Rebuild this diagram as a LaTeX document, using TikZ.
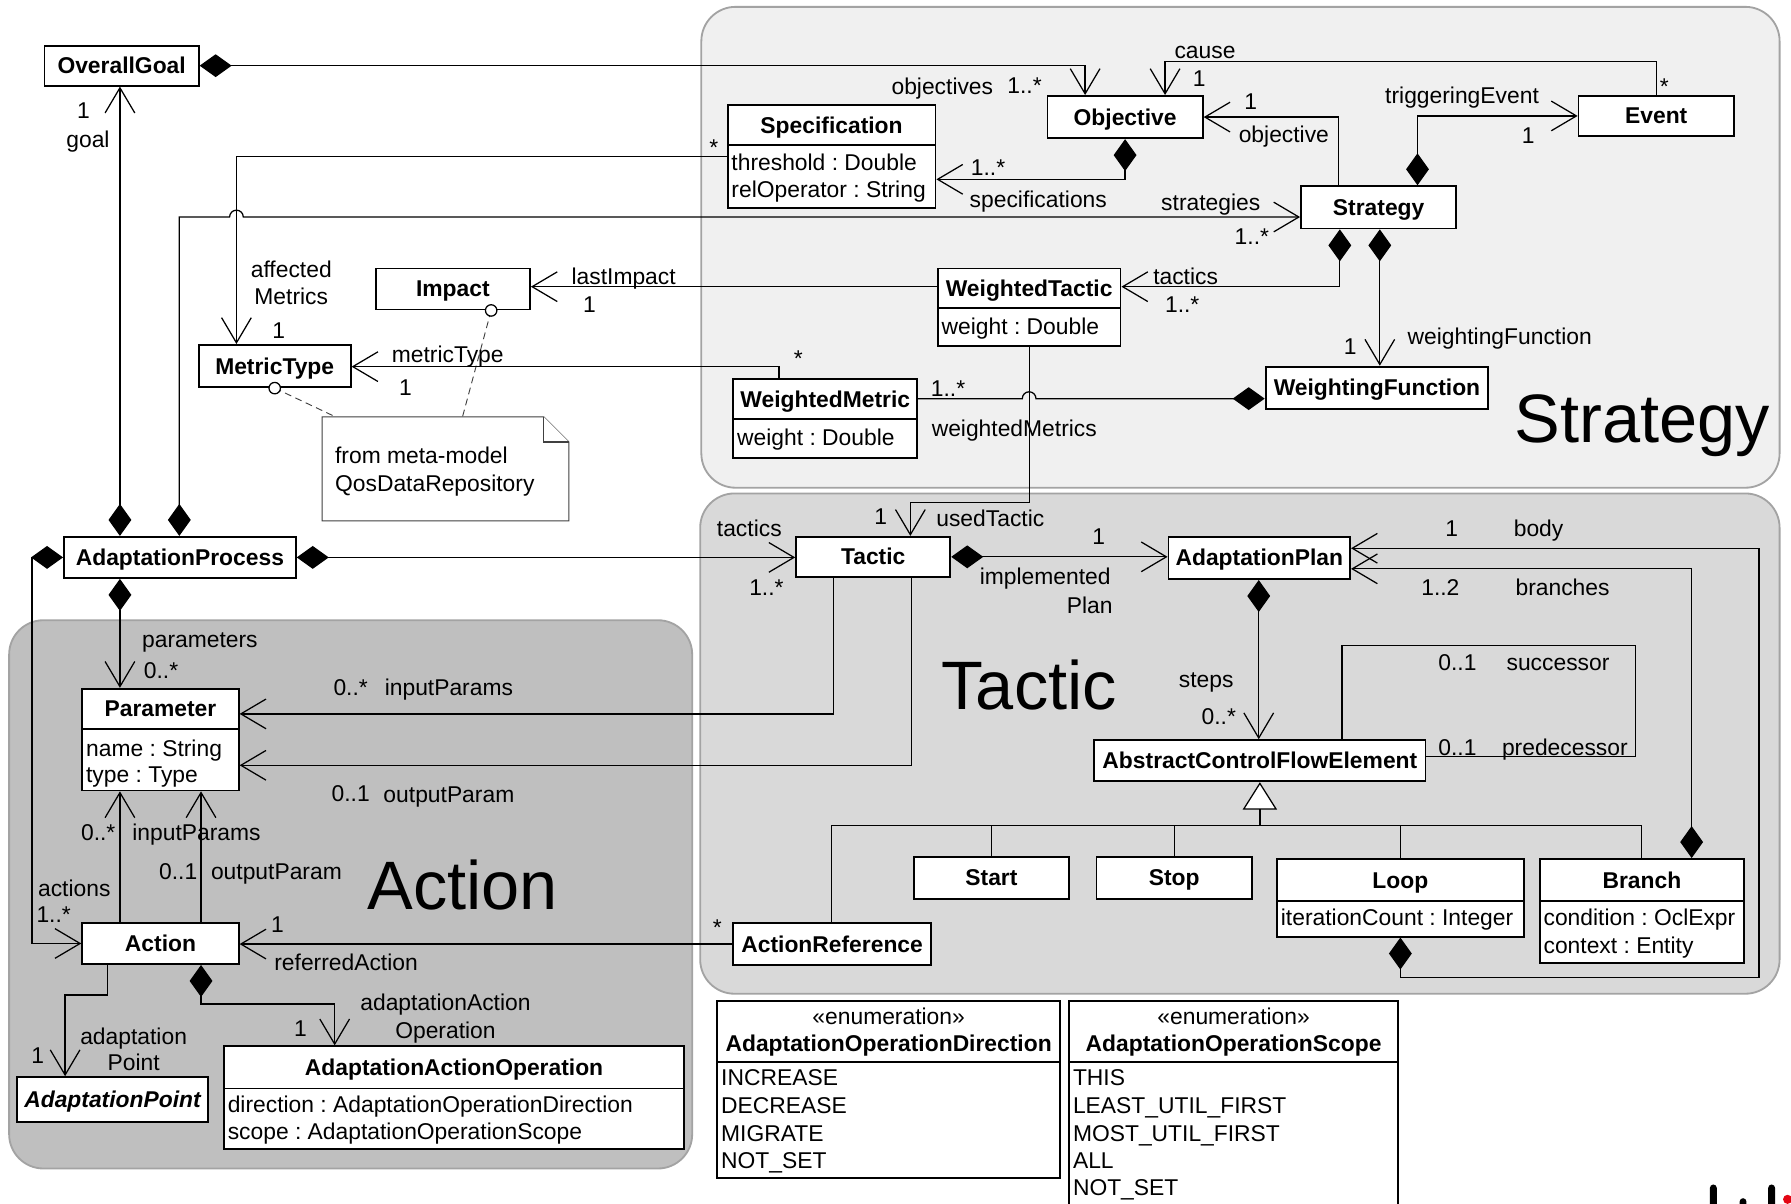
\documentclass[tikz,border=0pt]{standalone}
\usepackage{fontspec}
\setmainfont{Liberation Sans}
\usetikzlibrary{arrows.meta}
\frenchspacing
\definecolor{pStrat}{HTML}{F0F0F0}
\definecolor{pTact}{HTML}{D9D9D9}
\definecolor{pAct}{HTML}{BFBFBF}
\definecolor{pBorder}{HTML}{A3A3A3}
\definecolor{logored}{HTML}{E30613}
\newcounter{lblc}
\newcommand\lbl[4][]{\stepcounter{lblc}\node[lab,#1] (lbl\arabic{lblc}) at (#2,#3) {#4};}
\newcommand\ucls[6]{\node[box, minimum width={(#4-#2)*0.5pt}, minimum height={(#5-#3)*0.5pt}] (#1) at ({(#2+#4)/2},{(#3+#5)/2}) {#6};}
\begin{document}
\begin{tikzpicture}[x=0.5pt, y=-0.5pt,
  every node/.style={inner sep=0pt, font=\fontsize{10}{12}\selectfont, text height=7pt, text depth=0pt},
  box/.style={draw, fill=white, line width=0.8pt, font=\fontsize{10}{12}\selectfont\bfseries},
  ttl/.style={font=\fontsize{10}{12}\selectfont\bfseries},
  sep/.style={line width=0.8pt},
  lab/.style={},
  attr/.style={anchor=west},
  conn/.style={line width=0.55pt},
  nav/.style={conn, -{Straight Barb[length=11pt,width=13pt]}},
  comp/.style={conn, {Diamond[length=14pt,width=10pt]}-{Straight Barb[length=11pt,width=13pt]}},
  compo/.style={conn, {Diamond[length=14pt,width=10pt]}-},
  panel/.style={draw=pBorder, line width=0.8pt, rounded corners=15pt},
  big/.style={font=\fontsize{30}{36}\selectfont, text height=21pt},
  notest/.style={draw=black!75, line width=0.5pt, fill=white},
  dashedln/.style={draw=black!75, line width=0.4pt, dash pattern=on 3pt off 2pt}
]
\path[use as bounding box] (0,0) rectangle (1568,1054);
\clip (0,0) rectangle (1568,1054);
\fill[white] (0,0) rectangle (1568,1054);

% panels
\path[panel, fill=pStrat] (614,6) rectangle (1558,427);
\path[panel, fill=pTact] (613,432) rectangle (1558,870);
\path[panel, fill=pAct] (8,543) rectangle (606,1023);

% big titles
\lbl[big]{1438}{366}{Strategy}
\lbl[big]{901}{600}{Tactic}
\lbl[big]{405}{775}{Action}

% classes
\ucls{OverallGoal}{39}{40}{174}{75}{OverallGoal}
\ucls{Spec}{637}{92}{819}{182}{}
\draw[sep] (637,127) -- (819,127);
\lbl[ttl]{728}{109.5}{Specification}
\lbl[attr]{640}{142}{threshold : Double}
\lbl[attr]{640}{166}{relOperator : String}
\ucls{Objective}{917}{84}{1053}{121}{Objective}
\ucls{Event}{1382}{84}{1518}{119}{Event}
\ucls{Strategy}{1139}{163}{1275}{200}{Strategy}
\ucls{Impact}{329}{235}{464}{271}{Impact}
\ucls{WTactic}{821}{235}{981}{303}{}
\draw[sep] (821,270) -- (981,270);
\lbl[ttl]{901}{252.5}{WeightedTactic}
\lbl[attr]{824}{286}{weight : Double}
\ucls{MetricType}{174}{302}{307}{339}{MetricType}
\ucls{WMetric}{642}{332}{803}{401}{}
\draw[sep] (642,367) -- (803,367);
\lbl[ttl]{722.5}{349.5}{WeightedMetric}
\lbl[attr]{645}{383}{weight : Double}
\ucls{WFunc}{1108}{321}{1303}{358}{WeightingFunction}
\ucls{AProcess}{56}{470}{259}{506}{AdaptationProcess}
\ucls{Tactic}{697}{470}{832}{505}{Tactic}
\ucls{APlan}{1023}{470}{1182}{507}{AdaptationPlan}
\ucls{Parameter}{72}{603}{209}{692}{}
\draw[sep] (72,638) -- (209,638);
\lbl[ttl]{140.5}{620.5}{Parameter}
\lbl[attr]{75}{655}{name : String}
\lbl[attr]{75}{678}{type : Type}
\ucls{ACFE}{958}{648}{1248}{684}{AbstractControlFlowElement}
\ucls{Start}{800}{750}{936}{787}{Start}
\ucls{Stop}{960}{750}{1096}{787}{Stop}
\ucls{Loop}{1118}{752}{1334}{820}{}
\draw[sep] (1118,789) -- (1334,789);
\lbl[ttl]{1226}{770.5}{Loop}
\lbl[attr]{1121}{803}{iterationCount : Integer}
\ucls{Branch}{1348}{752}{1527}{843}{}
\draw[sep] (1348,789) -- (1527,789);
\lbl[ttl]{1437.5}{770.5}{Branch}
\lbl[attr]{1351}{803}{condition : OclExpr}
\lbl[attr]{1351}{828}{context : Entity}
\ucls{Action}{72}{808}{209}{844}{Action}
\ucls{ARef}{642}{808}{815}{845}{ActionReference}
\ucls{APoint}{15}{943}{182}{982}{\itshape AdaptationPoint}
\ucls{AAO}{196}{916}{599}{1006}{}
\draw[sep] (196,953) -- (599,953);
\lbl[ttl]{397.5}{934.5}{AdaptationActionOperation}
\lbl[attr]{199}{967}{direction : AdaptationOperationDirection}
\lbl[attr]{199}{991}{scope : AdaptationOperationScope}

% enumerations
\ucls{EDir}{628}{876}{928}{1031}{}
\draw[sep] (628,930) -- (928,930);
\lbl{778}{890}{«enumeration»}
\lbl[ttl]{778}{914}{AdaptationOperationDirection}
\lbl[attr]{631}{943}{INCREASE}
\lbl[attr]{631}{968}{DECREASE}
\lbl[attr]{631}{992}{MIGRATE}
\lbl[attr]{631}{1016}{NOT\_SET}
\node[fill=white, minimum width=144pt, minimum height=89pt] (EScope) at (1080,965) {};
\draw[sep] (936,1060) |- (1224,876) -- (1224,1060);
\draw[sep] (936,930) -- (1224,930);
\lbl{1080}{890}{«enumeration»}
\lbl[ttl]{1080}{914}{AdaptationOperationScope}
\lbl[attr]{939}{943}{THIS}
\lbl[attr]{939}{968}{LEAST\_UTIL\_FIRST}
\lbl[attr]{939}{992}{MOST\_UTIL\_FIRST}
\lbl[attr]{939}{1016}{ALL}
\lbl[attr]{939}{1040}{NOT\_SET}

% note
\node[minimum width=108pt, minimum height=45.5pt] (note) at (390,410.5) {};
\path[notest] (282,365) -- (476,365) -- (498,387) -- (498,456) -- (282,456) -- cycle;
\draw[notest] (476,365) |- (498,387);
\lbl[attr]{293}{399}{from meta-model}
\lbl[attr]{293}{423}{QosDataRepository}
\path[dashedln] (MetricType.south) -- (note.north -| 293,0);
\path[dashedln] (Impact.south -| 430,0) -- (note.north -| 405,0);
\draw[conn, fill=white] (MetricType.south) circle[radius=5];
\draw[conn, fill=white] (Impact.south -| 430,0) circle[radius=5];

% connectors
\draw[comp] (OverallGoal.east) -| (Objective.north -| 950,0);
\draw[nav] (Event.north) |- (1020,54) -- (Objective.north -| 1020,0);
\draw[nav] (Strategy.north -| 1172,0) |- (Objective.east);
\draw[comp] (Strategy.north -| 1241,0) |- (Event.west);
\draw[comp] (Objective.south) |- (Spec.east |- 0,157);
\draw[nav] (Spec.west |- 0,137) -| (MetricType.north -| 207,0);
\draw[comp] (AProcess.north -| 157,0) -- (157,190) -- (201,190) arc[start angle=180, end angle=360, radius=6] -- (Strategy.west |- 0,190);
\draw[comp] (AProcess.north -| 105,0) -- (OverallGoal.south -| 105,0);
\draw[comp] (Strategy.south -| 1173,0) |- (WTactic.east |- 0,251);
\draw[comp] (Strategy.south -| 1208,0) -- (WFunc.north -| 1208,0);
\draw[nav] (WTactic.west |- 0,251) -- (Impact.east |- 0,251);
\draw[nav] (WMetric.north -| 682,0) |- (MetricType.east |- 0,321);
\draw[compo] (WFunc.west |- 0,349) -- (907,349) arc[start angle=0, end angle=-180, radius=6] -- (WMetric.east |- 0,349);
\draw[nav] (WTactic.south) |- (797,440) -- (Tactic.north -| 797,0);
\draw[comp] (AProcess.east) -- (Tactic.west |- AProcess.east);
\draw[comp] (Tactic.east) -- (APlan.west |- Tactic.east);
\draw[comp] (Loop.south) |- (1540,856) |- (APlan.east |- 0,480);
\draw[comp] (Branch.north -| 1481,0) |- (APlan.east |- 0,498);
\draw[comp] (APlan.south -| 1102,0) -- (ACFE.north -| 1102,0);
\draw[conn] (ACFE.north -| 1175,0) |- (1432,565) |- (ACFE.east |- 0,662);
\draw[conn, -{Triangle[length=12pt,width=15pt,fill=white]}] (ACFE.south |- 0,723) -- (ACFE.south);
\draw[conn] (ARef.north -| 728,0) |- (1437,723) -- (Branch.north -| 1437,0);
\draw[conn] (Start.north) -- (Start.north |- 0,723);
\draw[conn] (Stop.north) -- (Stop.north |- 0,723);
\draw[conn] (Loop.north) -- (Loop.north |- 0,723);
\draw[nav] (Tactic.south -| 730,0) |- (Parameter.east |- 0,625);
\draw[nav] (Tactic.south -| 798,0) |- (Parameter.east |- 0,670);
\draw[comp] (AProcess.south -| 105,0) -- (Parameter.north -| 105,0);
\draw[comp] (AProcess.west) -| (28,826) -- (Action.west);
\draw[nav] (Action.north -| 105,0) -- (Parameter.south -| 105,0);
\draw[nav] (Action.north -| 176,0) -- (Parameter.south -| 176,0);
\draw[nav] (ARef.west) -- (Action.east |- ARef.west);
\draw[nav] (Action.south -| 94,0) |- (57,871) -- (APoint.north -| 57,0);
\draw[comp] (Action.south -| 176,0) |- (293,879) -- (AAO.north -| 293,0);

% labels
\lbl{825}{76}{objectives}
\lbl{897}{75}{1..*}
\lbl{1055}{44}{cause}
\lbl{1050}{69}{1}
\lbl{1095}{89}{1}
\lbl{1124}{118}{objective}
\lbl{1280}{84}{triggeringEvent}
\lbl{1338}{119}{1}
\lbl{1457}{76}{*}
\lbl{865}{147}{1..*}
\lbl{909}{175}{specifications}
\lbl{625}{129}{*}
\lbl{255}{236}{affected}
\lbl{255}{260}{Metrics}
\lbl{244}{289}{1}
\lbl{1060}{177}{strategies}
\lbl{1096}{207}{1..*}
\lbl{73}{97}{1}
\lbl{77}{122}{goal}
\lbl{546}{242}{lastImpact}
\lbl{516}{267}{1}
\lbl{1038}{242}{tactics}
\lbl{1035}{267}{1..*}
\lbl{1182}{303}{1}
\lbl{1313}{295}{weightingFunction}
\lbl{699}{314}{*}
\lbl{392}{310}{metricType}
\lbl{355}{339}{1}
\lbl{830}{340}{1..*}
\lbl{888}{375}{weightedMetrics}
\lbl{771}{452}{1}
\lbl{867}{454}{usedTactic}
\lbl{656}{463}{tactics}
\lbl{671}{514}{1..*}
\lbl{962}{470}{1}
\lbl{915}{505}{implemented}
\lbl{954}{530}{Plan}
\lbl{1271}{463}{1}
\lbl{1347}{463}{body}
\lbl{1261}{514}{1..2}
\lbl{1368}{514}{branches}
\lbl{1056}{595}{steps}
\lbl{1067}{627}{0..*}
\lbl{1276}{580}{0..1}
\lbl{1364}{580}{successor}
\lbl{1276}{654}{0..1}
\lbl{1370}{654}{predecessor}
\lbl{175}{560}{parameters}
\lbl{141}{587}{0..*}
\lbl{307}{602}{0..*}
\lbl{393}{602}{inputParams}
\lbl{307}{695}{0..1}
\lbl{393}{696}{outputParam}
\lbl{86}{729}{0..*}
\lbl{172}{729}{inputParams}
\lbl{156}{763}{0..1}
\lbl{242}{763}{outputParam}
\lbl{65}{778}{actions}
\lbl{47}{801}{1..*}
\lbl{243}{809}{1}
\lbl{303}{843}{referredAction}
\lbl{628}{812}{*}
\lbl{33}{924}{1}
\lbl{117}{907}{adaptation}
\lbl{117}{930}{Point}
\lbl{263}{900}{1}
\lbl{390}{878}{adaptationAction}
\lbl{390}{902}{Operation}

% logo fragment
\fill[rounded corners=1.5pt] (1497,1037) rectangle (1503,1062);
\fill[rounded corners=1.5pt] (1523,1049) rectangle (1529,1062);
\fill[rounded corners=1.5pt] (1548,1037) rectangle (1554,1062);
\fill[logored] (1565,1050) circle[radius=4];
\end{tikzpicture}
\end{document}
